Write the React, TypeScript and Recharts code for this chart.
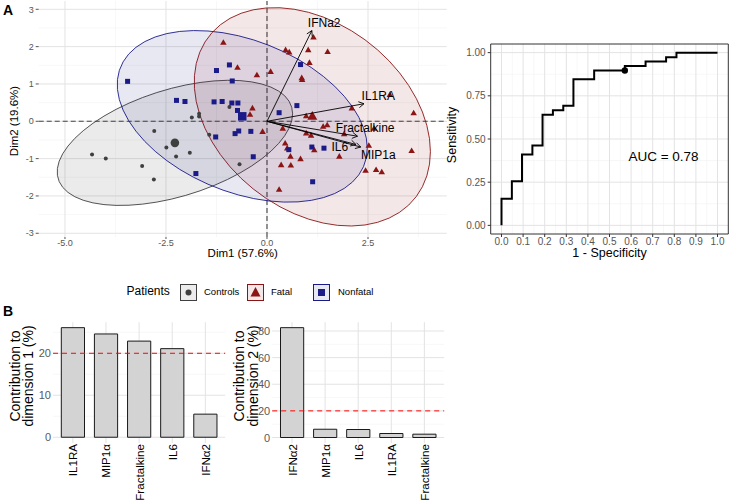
import React from "react";
import {
  ScatterChart,
  Scatter,
  XAxis,
  YAxis,
  CartesianGrid,
  ReferenceLine,
  ReferenceArea,
  BarChart,
  Bar,
} from "recharts";

const FONT = '"Liberation Sans", Arial, Helvetica, sans-serif';

// ---- Panel A: PCA individuals (Dim1, Dim2) ----
const controlsDim1 = [-4.33, -3.99, -3.09, -2.8, -2.79, -2.49, -2.25, -1.91, -1.86, -1.68, -1.68, -1.43, -0.93, -0.68];
const controlsDim2 = [-0.89, -1.0, -1.2, -1.56, -0.26, -0.7, -0.94, -0.84, 0.1, 0.2, 0.13, -0.36, 0.38, -1.15];

const fatalDim1 = [
  -1.08, -0.73, -0.25, 0.09, 0.46, 0.55, 1.02, 1.15, 1.5, 1.05, 0.86, 0.87, -0.36, -0.42, -0.11, 0.97, 1.39, 1.49, 0.97, 1.09,
  0.45, 0.5, 1.17, 0.58, 0.35, 0.59, 0.83, 0.3, 1.91, 2.1, 1.79, 2.52, 2.44, 2.7, 2.84, 3.04, 3.63, 3.58, 2.65, 0.39,
];
const fatalDim2 = [
  2.1, 1.43, 1.23, 1.32, 1.9, 1.84, 1.9, 2.24, 1.85, 1.56, 1.15, 1.1, 0.34, 0.17, -0.29, 0.13, -0.15, -0.11, -0.33, -0.39,
  -0.6, -0.73, -0.78, -0.95, -1.18, -1.19, -1.02, -1.84, -0.35, 0.34, -0.95, -0.66, -1.33, -1.31, -1.37, 0.7, 0.21, -0.8, -0.2, -0.2,
];

const nonfatalDim1 = [
  -3.45, -2.24, -2.03, -1.76, -1.31, -1.25, -1.27, -1.11, -0.93, -0.86, -0.87, -0.72, -0.73, -0.7, -0.79, -0.4, -0.34, 0.3,
  0.54, 0.74, 0.83, 1.11, 1.41, 1.13,
];
const nonfatalDim2 = [
  1.07, 0.56, 0.53, -1.4, 0.52, 1.36, -0.42, 0.53, 1.51, 1.08, 0.49, 0.49, 0.29, -0.26, -0.33, -0.27, -0.95, 0.23, -0.76, 0.42,
  1.52, -0.69, -0.72, -1.62,
];

// variable arrows (biplot)
const varNames = ["IFNa2", "IL1RA", "Fractalkine", "IL6", "MIP1a"];
const varDim1 = [1.11, 2.4, 2.24, 2.2, 2.32];
const varDim2 = [2.43, 0.47, -0.4, -0.62, -0.69];

const pcaXTicks = [-5, -2.5, 0, 2.5];
const pcaXMinor = [-3.75, -1.25, 1.25, 3.75];
const pcaYTicks = [-3, -2, -1, 0, 1, 2, 3];
const pcaYMinor = [-2.5, -1.5, -0.5, 0.5, 1.5, 2.5];
const pcaXDomain: [number, number] = [-5.65, 4.45];
const pcaYDomain: [number, number] = [-3.1, 3.22];

// ---- ROC ----
const rocFpr = [0, 0, 0.048, 0.048, 0.095, 0.095, 0.143, 0.143, 0.19, 0.19, 0.238, 0.238, 0.286, 0.286, 0.333, 0.333, 0.429, 0.429, 0.571, 0.571, 0.667, 0.667, 0.762, 0.762, 0.81, 0.81, 1.0];
const rocSens = [0, 0.154, 0.154, 0.256, 0.256, 0.41, 0.41, 0.462, 0.462, 0.641, 0.641, 0.667, 0.667, 0.692, 0.692, 0.846, 0.846, 0.897, 0.897, 0.923, 0.923, 0.949, 0.949, 0.974, 0.974, 1.0, 1.0];
const cutoffFpr = [0.571];
const cutoffSens = [0.897];
const aucText = "AUC = 0.78";
const aucAt = { x: 0.75, y: 0.4 };
const rocXTicks = [0, 0.1, 0.2, 0.3, 0.4, 0.5, 0.6, 0.7, 0.8, 0.9, 1.0];
const rocXMinor = [0.05, 0.15, 0.25, 0.35, 0.45, 0.55, 0.65, 0.75, 0.85, 0.95];
const rocYTicks = [0, 0.25, 0.5, 0.75, 1.0];
const rocYMinor = [0.125, 0.375, 0.625, 0.875];
const rocDomain: [number, number] = [-0.05, 1.05];

// ---- Panel B: contributions ----
const dim1Vars = ["IL1RA", "MIP1α", "Fractalkine", "IL6", "IFNα2"];
const dim1Contrib = [26.1, 24.6, 22.9, 21.1, 5.5];
const dim2Vars = ["IFNα2", "MIP1α", "IL6", "IL1RA", "Fractalkine"];
const dim2Contrib = [82.5, 6.2, 6.0, 3.0, 2.5];
const contribCutoff = 20;
const dim1Ticks = [0, 10, 20];
const dim1Minor = [5, 15, 25];
const dim2Ticks = [0, 20, 40, 60, 80];
const dim2Minor = [10, 30, 50, 70];
const dim1Domain: [number, number] = [-1.37, 27.4];
const dim2Domain: [number, number] = [-4.13, 86.6];

const COL = { controls: "#3f3f3f", fatal: "#8b1414", nonfatal: "#1a1a88" };
const TINT = { controls: "#ececec", fatal: "#f3e7e7", nonfatal: "#e8e8f3" };
const labelOffset: Record<string, [number, number]> = {
  IFNa2: [12.3, -7.3],
  IL1RA: [14.3, -7.6],
  Fractalkine: [7.7, -8.3],
  IL6: [-16, 2.4],
  MIP1a: [17.6, 8.3],
};

const mean = (a: number[]) => a.reduce((s, v) => s + v, 0) / a.length;
const toPts = (xs: number[], ys: number[]) => xs.map((x, i) => ({ x, y: ys[i] }));

// 95% normal data ellipse, same maths as ggplot2::stat_ellipse(type = "norm")
function normEllipse(xs: number[], ys: number[], level = 0.95, segments = 51) {
  const n = xs.length;
  const mx = mean(xs);
  const my = mean(ys);
  let sxx = 0, syy = 0, sxy = 0;
  xs.forEach((x, i) => {
    const dx = x - mx, dy = ys[i] - my;
    sxx += dx * dx; syy += dy * dy; sxy += dx * dy;
  });
  sxx /= n - 1; syy /= n - 1; sxy /= n - 1;
  const a = Math.sqrt(sxx);
  const b = sxy / a;
  const c = Math.sqrt(syy - b * b);
  const dfd = n - 1;
  const f = (dfd / 2) * (Math.pow(1 - level, -2 / dfd) - 1);
  const r = Math.sqrt(2 * f);
  const out: { x: number; y: number }[] = [];
  for (let k = 0; k <= segments; k++) {
    const t = (2 * Math.PI * k) / segments;
    out.push({ x: mx + r * a * Math.cos(t), y: my + r * (b * Math.cos(t) + c * Math.sin(t)) });
  }
  return out;
}

const gridNum = (vals: number[], key: "xAxis" | "yAxis", dom: [number, number]) => (p: any) => {
  const ax = p?.[key];
  if (ax && typeof ax.scale === "function") return vals.map((v) => ax.scale(v));
  const o = p?.offset;
  if (!o) return [];
  return key === "xAxis"
    ? vals.map((v) => o.left + ((v - dom[0]) / (dom[1] - dom[0])) * o.width)
    : vals.map((v) => o.top + ((dom[1] - v) / (dom[1] - dom[0])) * o.height);
};

const gridBand = (cats: string[], pad: number) => (p: any) => {
  const ax = p?.xAxis;
  if (ax && typeof ax.scale === "function" && typeof ax.scale.bandwidth === "function") {
    const bw = ax.scale.bandwidth();
    return cats.map((c) => ax.scale(c) + bw / 2);
  }
  const o = p?.offset;
  if (!o) return [];
  const band = (o.width - 2 * pad) / cats.length;
  return cats.map((_, i) => o.left + pad + band * (i + 0.5));
};

const noShape = () => <g />;
const dot = (col: string, r: number) => (p: any) => <circle cx={p.cx} cy={p.cy} r={r} fill={col} />;
const tri = (col: string, s: number) => (p: any) => {
  const h = (s * Math.sqrt(3)) / 2;
  return (
    <polygon
      points={`${p.cx},${p.cy - (2 * h) / 3} ${p.cx - s / 2},${p.cy + h / 3} ${p.cx + s / 2},${p.cy + h / 3}`}
      fill={col}
    />
  );
};
const sq = (col: string, s: number) => (p: any) => <rect x={p.cx - s / 2} y={p.cy - s / 2} width={s} height={s} fill={col} />;

const arrow = (name: string) => (lp: any) => {
  const pts = lp?.points || [];
  if (pts.length < 2) return <g />;
  const [a, b] = pts;
  const ang = Math.atan2(b.y - a.y, b.x - a.x);
  const L = 6, w = Math.PI / 6;
  const h1 = [b.x - L * Math.cos(ang - w), b.y - L * Math.sin(ang - w)];
  const h2 = [b.x - L * Math.cos(ang + w), b.y - L * Math.sin(ang + w)];
  const [dx, dy] = labelOffset[name] || [0, -8];
  return (
    <g>
      <line x1={a.x} y1={a.y} x2={b.x} y2={b.y} stroke="#000" strokeWidth={0.9} />
      <polyline points={`${h1[0]},${h1[1]} ${b.x},${b.y} ${h2[0]},${h2[1]}`} fill="none" stroke="#000" strokeWidth={0.9} />
      <text x={b.x + dx} y={b.y + dy} textAnchor="middle" dominantBaseline="central" fontSize={12} fill="#000">
        {name}
      </text>
    </g>
  );
};

const XTitle = (props: any) => {
  const vb = props.viewBox || {};
  return (
    <text x={vb.x + vb.width / 2} y={props.ty} textAnchor="middle" dominantBaseline="central" fontSize={props.fs} fill="#000">
      {props.text}
    </text>
  );
};

const YTitle = (props: any) => {
  const vb = props.viewBox || {};
  const cy = props.ty ?? vb.y + vb.height / 2;
  const lines: string[] = props.lines;
  return (
    <g>
      {lines.map((t, i) => (
        <text
          key={t}
          x={props.tx[i]}
          y={cy}
          transform={`rotate(-90, ${props.tx[i]}, ${cy})`}
          textAnchor="middle"
          dominantBaseline="central"
          fontSize={props.fs}
          fill="#000"
        >
          {t}
        </text>
      ))}
    </g>
  );
};

const RotTick = (props: any) => {
  const { x, y, payload } = props;
  return (
    <text x={x} y={y} transform={`rotate(-90, ${x}, ${y})`} textAnchor="end" dominantBaseline="central" fontSize={11.6} fill="#000">
      {payload.value}
    </text>
  );
};

const GrayYTick = (props: any) => {
  const { x, y, payload } = props;
  return (
    <text x={x} y={y} textAnchor="end" dominantBaseline="central" fontSize={11} fill="#595959" stroke="none">
      {payload.value}
    </text>
  );
};

const LegendKey = ({ col, tint, kind }: { col: string; tint: string; kind: string }) => (
  <svg width={17} height={17} style={{ position: "absolute" }}>
    <rect x={0.5} y={0.5} width={16} height={16} fill={tint} stroke={col} strokeWidth={1} />
    {kind === "dot" && <circle cx={8.5} cy={8.5} r={3} fill={col} />}
    {kind === "tri" && <polygon points="8.5,3 3.5,12.5 13.5,12.5" fill={col} />}
    {kind === "sq" && <rect x={5} y={5} width={7} height={7} fill={col} />}
  </svg>
);

const gridMinor = { stroke: "#f1f1f1", strokeWidth: 0.6 };
const gridMajor = { stroke: "#e3e3e3", strokeWidth: 1 };

export default function App() {
  const controls = toPts(controlsDim1, controlsDim2);
  const fatal = toPts(fatalDim1, fatalDim2);
  const nonfatal = toPts(nonfatalDim1, nonfatalDim2);
  const rocData = toPts(rocFpr, rocSens);
  const cutoff = toPts(cutoffFpr, cutoffSens);
  const dim1Data = dim1Vars.map((name, i) => ({ name, value: dim1Contrib[i] }));
  const dim2Data = dim2Vars.map((name, i) => ({ name, value: dim2Contrib[i] }));
  const tickGray = { fontSize: 9, fill: "#555", fontFamily: FONT };

  return (
    <div style={{ position: "relative", width: 731, height: 500, fontFamily: FONT, background: "#fff" }}>
      <style>{"body{margin:0}"}</style>
      <div style={{ position: "absolute", left: 3, top: 2, fontWeight: "bold", fontSize: 14 }}>A</div>
      <div style={{ position: "absolute", left: 3, top: 303, fontWeight: "bold", fontSize: 14 }}>B</div>

      {/* PCA biplot */}
      <div style={{ position: "absolute", left: 0, top: 0 }}>
        <ScatterChart width={450} height={262} margin={{ top: 1.1, right: 3.2, bottom: 0, left: 0 }}>
          <CartesianGrid
            {...gridMinor}
            verticalCoordinatesGenerator={gridNum(pcaXMinor, "xAxis", pcaXDomain)}
            horizontalCoordinatesGenerator={gridNum(pcaYMinor, "yAxis", pcaYDomain)}
          />
          <CartesianGrid
            {...gridMajor}
            verticalCoordinatesGenerator={gridNum(pcaXTicks, "xAxis", pcaXDomain)}
            horizontalCoordinatesGenerator={gridNum(pcaYTicks, "yAxis", pcaYDomain)}
          />
          <XAxis
            type="number"
            dataKey="x"
            domain={pcaXDomain}
            allowDataOverflow
            ticks={pcaXTicks}
            interval={0}
            tickFormatter={(v: number) => v.toFixed(1)}
            axisLine={false}
            tickLine={{ stroke: "#555" }}
            tickSize={2}
            tickMargin={1}
            tick={tickGray}
            height={25}
            label={<XTitle text="Dim1 (57.6%)" ty={253} fs={11.5} />}
          />
          <YAxis
            type="number"
            dataKey="y"
            domain={pcaYDomain}
            allowDataOverflow
            ticks={pcaYTicks}
            interval={0}
            axisLine={false}
            tickLine={{ stroke: "#555" }}
            tickSize={3}
            tickMargin={2}
            tick={tickGray}
            width={38.7}
            label={<YTitle lines={["Dim2 (19.6%)"]} tx={[14]} ty={121} fs={11.5} />}
          />
          <Scatter data={normEllipse(controlsDim1, controlsDim2)} fill={COL.controls} line={{ stroke: COL.controls, strokeWidth: 0.9, fill: COL.controls, fillOpacity: 0.1 }} lineJointType="linearClosed" shape={noShape} isAnimationActive={false} />
          <Scatter data={normEllipse(fatalDim1, fatalDim2)} fill={COL.fatal} line={{ stroke: COL.fatal, strokeWidth: 0.9, fill: COL.fatal, fillOpacity: 0.1 }} lineJointType="linearClosed" shape={noShape} isAnimationActive={false} />
          <Scatter data={normEllipse(nonfatalDim1, nonfatalDim2)} fill={COL.nonfatal} line={{ stroke: COL.nonfatal, strokeWidth: 0.9, fill: COL.nonfatal, fillOpacity: 0.1 }} lineJointType="linearClosed" shape={noShape} isAnimationActive={false} />
          <ReferenceLine x={0} stroke="#444" strokeWidth={1.1} strokeDasharray="5 3" />
          <ReferenceLine y={0} stroke="#444" strokeWidth={1.1} strokeDasharray="5 3" />
          <Scatter data={controls} shape={dot(COL.controls, 2)} isAnimationActive={false} />
          <Scatter data={fatal} shape={tri(COL.fatal, 6.5)} isAnimationActive={false} />
          <Scatter data={nonfatal} shape={sq(COL.nonfatal, 5)} isAnimationActive={false} />
          <Scatter data={[{ x: mean(controlsDim1), y: mean(controlsDim2) }]} shape={dot(COL.controls, 4.3)} isAnimationActive={false} />
          <Scatter data={[{ x: mean(fatalDim1), y: mean(fatalDim2) }]} shape={tri(COL.fatal, 10)} isAnimationActive={false} />
          <Scatter data={[{ x: mean(nonfatalDim1), y: mean(nonfatalDim2) }]} shape={sq(COL.nonfatal, 8.5)} isAnimationActive={false} />
          {varNames.map((name, i) => (
            <Scatter
              key={name}
              data={[{ x: 0, y: 0 }, { x: varDim1[i], y: varDim2[i] }]}
              fill="#000"
              line={arrow(name)}
              shape={noShape}
              isAnimationActive={false}
            />
          ))}
        </ScatterChart>
      </div>

      {/* legend */}
      <div style={{ position: "absolute", left: 0, top: 283, width: 731, height: 18, fontSize: 9.5 }}>
        <span style={{ position: "absolute", left: 126.5, top: 1, fontSize: 12 }}>Patients</span>
        <div style={{ position: "absolute", left: 179.5, top: 0.5 }}>
          <LegendKey col={COL.controls} tint={TINT.controls} kind="dot" />
        </div>
        <span style={{ position: "absolute", left: 204, top: 3 }}>Controls</span>
        <div style={{ position: "absolute", left: 247, top: 0.5 }}>
          <LegendKey col={COL.fatal} tint={TINT.fatal} kind="tri" />
        </div>
        <span style={{ position: "absolute", left: 271, top: 3 }}>Fatal</span>
        <div style={{ position: "absolute", left: 313, top: 0.5 }}>
          <LegendKey col={COL.nonfatal} tint={TINT.nonfatal} kind="sq" />
        </div>
        <span style={{ position: "absolute", left: 338, top: 3 }}>Nonfatal</span>
      </div>

      {/* ROC */}
      <div style={{ position: "absolute", left: 441, top: 30 }}>
        <ScatterChart width={290} height={232} margin={{ top: 14, right: 2.7, bottom: 0, left: 0 }}>
          <CartesianGrid
            {...gridMinor}
            verticalCoordinatesGenerator={gridNum(rocXMinor, "xAxis", rocDomain)}
            horizontalCoordinatesGenerator={gridNum(rocYMinor, "yAxis", rocDomain)}
          />
          <CartesianGrid
            {...gridMajor}
            verticalCoordinatesGenerator={gridNum(rocXTicks, "xAxis", rocDomain)}
            horizontalCoordinatesGenerator={gridNum(rocYTicks, "yAxis", rocDomain)}
          />
          <XAxis
            type="number"
            dataKey="x"
            domain={rocDomain}
            allowDataOverflow
            ticks={rocXTicks}
            interval={0}
            tickFormatter={(v: number) => v.toFixed(1)}
            axisLine={false}
            tickLine={{ stroke: "#333" }}
            tickSize={3}
            tickMargin={1}
            tick={{ fontSize: 10, fill: "#555", fontFamily: FONT }}
            height={28}
            label={<XTitle text="1 - Specificity" ty={222.7} fs={12.5} />}
          />
          <YAxis
            type="number"
            dataKey="y"
            domain={rocDomain}
            allowDataOverflow
            ticks={rocYTicks}
            interval={0}
            tickFormatter={(v: number) => v.toFixed(2)}
            axisLine={false}
            tickLine={{ stroke: "#333" }}
            tickSize={3}
            tickMargin={2}
            tick={{ fontSize: 10, fill: "#555", fontFamily: FONT }}
            width={49.7}
            label={<YTitle lines={["Sensitivity"]} tx={[10.7]} ty={105} fs={12.5} />}
          />
          <Scatter data={rocData} fill="#000" line={{ stroke: "#000", strokeWidth: 2 }} lineJointType="linear" shape={noShape} isAnimationActive={false} />
          <Scatter data={cutoff} shape={dot("#000", 3.2)} isAnimationActive={false} />
          <Scatter
            data={[aucAt]}
            shape={(p: any) => (
              <text x={p.cx} y={p.cy} textAnchor="middle" dominantBaseline="central" fontSize={13.5} fill="#000">
                {aucText}
              </text>
            )}
            isAnimationActive={false}
          />
          <ReferenceArea x1={rocDomain[0]} x2={rocDomain[1]} y1={rocDomain[0]} y2={rocDomain[1]} fill="none" fillOpacity={0} stroke="#333" strokeWidth={1} ifOverflow="visible" />
        </ScatterChart>
      </div>

      {/* contributions to dimension 1 */}
      <div style={{ position: "absolute", left: 0, top: 300 }}>
        <BarChart width={227} height={200} data={dim1Data} margin={{ top: 22.2, right: 1.8, bottom: 0, left: 0 }}>
          <CartesianGrid {...gridMinor} vertical={false} horizontalCoordinatesGenerator={gridNum(dim1Minor, "yAxis", dim1Domain)} />
          <CartesianGrid
            {...gridMajor}
            verticalCoordinatesGenerator={gridBand(dim1Vars, 3.3)}
            horizontalCoordinatesGenerator={gridNum(dim1Ticks, "yAxis", dim1Domain)}
          />
          <XAxis
            dataKey="name"
            type="category"
            padding={{ left: 3.3, right: 3.3 }}
            interval={0}
            tick={<RotTick />}
            tickLine={false}
            axisLine={false}
            tickSize={0}
            tickMargin={1}
            height={57}
          />
          <YAxis
            type="number"
            domain={dim1Domain}
            allowDataOverflow
            ticks={dim1Ticks}
            interval={0}
            axisLine={false}
            tickLine={false}
            tickSize={0}
            tickMargin={2}
            tick={<GrayYTick />}
            width={53}
            label={<YTitle lines={["Contribution to", "dimension 1 (%)"]} tx={[15, 28.3]} ty={76} fs={14} />}
          />
          <Bar dataKey="value" fill="#d3d3d3" stroke="#1a1a1a" strokeWidth={1} barSize={23.2} isAnimationActive={false} />
          <ReferenceLine y={contribCutoff} stroke="#ff0000" strokeWidth={1} strokeDasharray="5 4" />
        </BarChart>
      </div>

      {/* contributions to dimension 2 */}
      <div style={{ position: "absolute", left: 230, top: 300 }}>
        <BarChart width={216} height={200} data={dim2Data} margin={{ top: 22.2, right: 1.8, bottom: 0, left: 0 }}>
          <CartesianGrid {...gridMinor} vertical={false} horizontalCoordinatesGenerator={gridNum(dim2Minor, "yAxis", dim2Domain)} />
          <CartesianGrid
            {...gridMajor}
            verticalCoordinatesGenerator={gridBand(dim2Vars, 3.3)}
            horizontalCoordinatesGenerator={gridNum(dim2Ticks, "yAxis", dim2Domain)}
          />
          <XAxis
            dataKey="name"
            type="category"
            padding={{ left: 3.3, right: 3.3 }}
            interval={0}
            tick={<RotTick />}
            tickLine={false}
            axisLine={false}
            tickSize={0}
            tickMargin={1}
            height={57}
          />
          <YAxis
            type="number"
            domain={dim2Domain}
            allowDataOverflow
            ticks={dim2Ticks}
            interval={0}
            axisLine={false}
            tickLine={false}
            tickSize={0}
            tickMargin={2}
            tick={<GrayYTick />}
            width={42.2}
            label={<YTitle lines={["Contribution to", "dimension 2 (%)"]} tx={[9.3, 22.7]} ty={76} fs={14} />}
          />
          <Bar dataKey="value" fill="#d3d3d3" stroke="#1a1a1a" strokeWidth={1} barSize={23.2} isAnimationActive={false} />
          <ReferenceLine y={contribCutoff} stroke="#ff0000" strokeWidth={1} strokeDasharray="5 4" />
        </BarChart>
      </div>
    </div>
  );
}
